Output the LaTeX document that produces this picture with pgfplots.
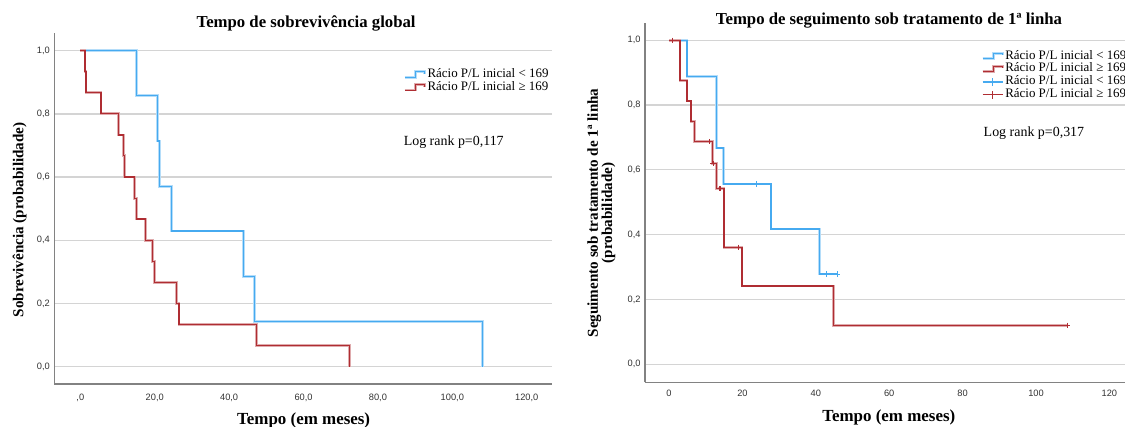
\documentclass[border=0pt]{standalone}
\usepackage{fontspec}
\setmainfont{Liberation Serif}
\setsansfont{Liberation Sans}
\usepackage{pgfplots}
\pgfplotsset{compat=1.18}

\definecolor{kmblue}{RGB}{70,170,240}
\definecolor{kmred}{RGB}{175,45,50}
\definecolor{gridgray}{RGB}{212,212,212}
\definecolor{spine}{RGB}{130,130,130}
\definecolor{ticktext}{RGB}{50,50,50}

\pgfplotsset{
  kmaxis/.style={
    scale only axis,
    axis x line*=bottom, axis y line*=left,
    axis line style={draw=spine, line width=1.2bp, -},
    ymajorgrids, grid style={draw=gridgray, line width=1.3bp},
    major tick length=0pt,
    ytick={0,0.2,0.4,0.6,0.8,1.0},
    yticklabels={{0,0},{0,2},{0,4},{0,6},{0,8},{1,0}},
    ticklabel style={font=\sffamily\fontsize{9.3}{10}\selectfont, text=ticktext, inner sep=0pt},
    yticklabel style={anchor=east, xshift=-4.3bp},
    xlabel style={font=\bfseries\fontsize{17}{18}\selectfont, anchor=center},
    ylabel style={font=\bfseries\fontsize{15.2}{14.4}\selectfont, anchor=center, align=center},
    legend cell align=left,
    legend style={draw=none, fill=none, anchor=north west,
      font=\fontsize{13}{13}\selectfont, inner sep=0pt, row sep=0pt,
      /tikz/column sep=1bp,
      nodes={inner sep=0.3bp, text height=9bp, text depth=3.3bp}},
  },
  km/.style={const plot, no marks, line width=1.2bp, draw=#1,
    preaction={draw=#1!40, line width=2.8bp},
    legend image code/.code={
      \draw[draw=#1!40, line width=2.6bp] (0bp,-2.5bp) -- (11bp,-2.5bp) -- (11bp,3bp) -- (20bp,3bp) -- (20bp,1bp);
      \draw[draw=#1, line width=1.1bp] (0bp,-2.5bp) -- (11bp,-2.5bp) -- (11bp,3bp) -- (20bp,3bp) -- (20bp,1bp);}},
  cens/.style={only marks, mark=+, mark size=2.6bp, draw=#1, mark options={line width=1.1bp, draw=#1},
    legend image code/.code={
      \draw[draw=#1, line width=1.1bp] (0bp,0bp) -- (20bp,0bp);
      \draw[draw=#1, line width=1.1bp] (10bp,-4bp) -- (10bp,4bp);}},
}

\begin{document}
\begin{tikzpicture}
\path[use as bounding box] (0,0) rectangle (1125bp,427bp);

% Sobrevivencia global
\begin{axis}[kmaxis,
  at={(54.3bp,43bp)}, anchor=south west,
  width=497.7bp, height=350.7bp,
  xmin=-7.0, xmax=126.8, ymin=-0.055, ymax=1.055,
  xtick={0,20,40,60,80,100,120},
  xticklabels={{,0},{20,0},{40,0},{60,0},{80,0},{100,0},{120,0}},
  xticklabel style={anchor=north, yshift=-9.5bp},
  title={Tempo de sobrevivência global},
  every axis title/.style={at={(axis description cs:0.506,1.029)}, anchor=center,
    font=\bfseries\fontsize{16.8}{18}\selectfont},
  xlabel={Tempo (em meses)},
  xlabel style={at={(axis description cs:0.501,-0.103)}},
  ylabel={Sobrevivência (probabilidade)},
  ylabel style={at={(axis description cs:-0.0697,0.468)}},
  legend style={at={(axis cs:86.8,0.945)}},
]
\addplot[km=kmblue] coordinates {(0,1) (15.05,0.857) (20.8,0.714) (21.3,0.571) (24.4,0.429) (43.8,0.286) (46.9,0.143) (108.1,0)};
\addlegendentry{Rácio P/L inicial < 169}
\addplot[km=kmred] coordinates {(0,1) (1.26,0.933) (1.53,0.867) (5.56,0.8) (10.3,0.733) (11.7,0.667) (11.9,0.6) (14.6,0.533) (15.2,0.467) (17.5,0.4) (19.5,0.333) (19.9,0.267) (25.9,0.2) (26.5,0.133) (47.4,0.067) (72.3,0)};
\addlegendentry{Rácio P/L inicial ≥ 169}
\node[anchor=west, inner sep=0pt, font=\fontsize{14}{15}\selectfont] at (axis cs:86.9,0.712) {Log rank p=0,117};
\end{axis}

% Seguimento sob tratamento de 1a linha
\begin{axis}[kmaxis,
  at={(645bp,44.7bp)}, anchor=south west,
  width=489bp, height=359.6bp,
  xmin=-6.54, xmax=126.7, ymin=-0.056, ymax=1.054,
  xtick={0,20,40,60,80,100,120},
  xticklabels={0,20,40,60,80,100,120},
  xticklabel style={anchor=north, yshift=-7.8bp},
  title={Tempo de seguimento sob tratamento de 1ª linha},
  every axis title/.style={at={(axis description cs:0.499,1.005)}, anchor=center,
    font=\bfseries\fontsize{16.8}{18}\selectfont},
  xlabel={Tempo (em meses)},
  xlabel style={at={(axis description cs:0.4986,-0.099)}},
  ylabel={Seguimento sob tratamento de 1ª linha\\(probabilidade)},
  ylabel style={at={(axis description cs:-0.0892,0.471)}},
  legend style={at={(axis cs:85.0,0.971)}},
]
\addplot[km=kmblue] coordinates {(0,1) (4.9,0.889) (13.0,0.667) (14.9,0.556) (27.8,0.417) (40.9,0.278) (46.0,0.278)};
\addlegendentry{Rácio P/L inicial < 169}
\addplot[km=kmred] coordinates {(0,1) (3.0,0.875) (4.9,0.8125) (6.0,0.75) (6.9,0.6875) (11.9,0.619) (13.0,0.541) (15.0,0.361) (19.9,0.241) (44.8,0.120) (108.5,0.120)};
\addlegendentry{Rácio P/L inicial ≥ 169}
\addplot[cens=kmblue] coordinates {(23.9,0.556) (42.8,0.278) (46.0,0.278)};
\addlegendentry{Rácio P/L inicial < 169}
\addplot[cens=kmred] coordinates {(0.9,1) (11.0,0.6875) (12.0,0.619) (13.9,0.541) (18.9,0.361) (108.5,0.120)};
\addlegendentry{Rácio P/L inicial ≥ 169}
\node[anchor=west, inner sep=0pt, font=\fontsize{14}{15}\selectfont] at (axis cs:85.7,0.713) {Log rank p=0,317};
\end{axis}
\end{tikzpicture}
\end{document}
